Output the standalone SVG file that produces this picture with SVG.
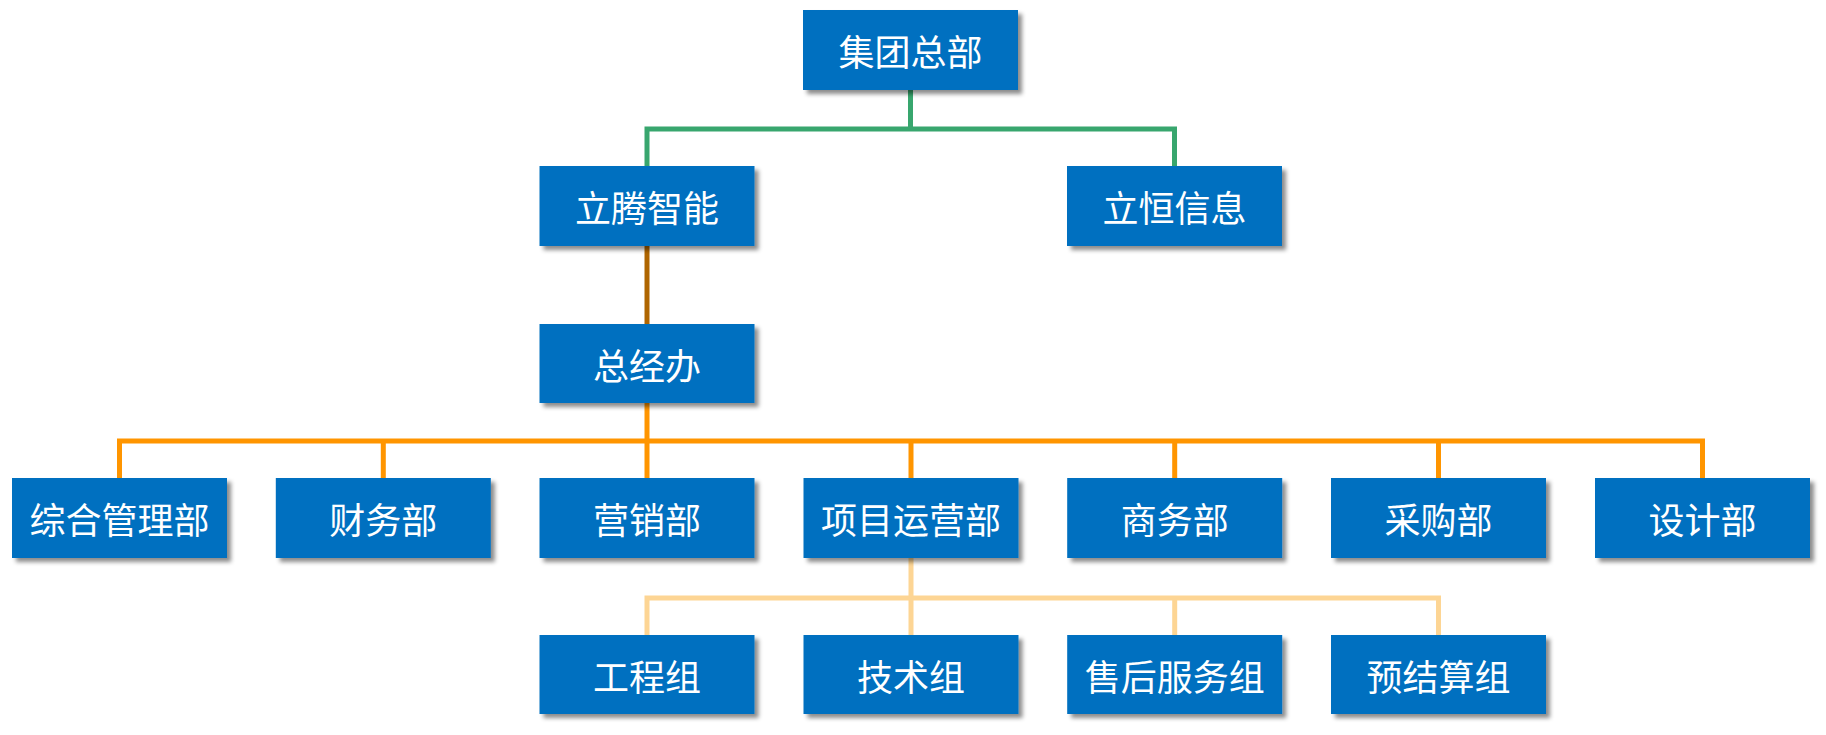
<svg xmlns="http://www.w3.org/2000/svg" width="1826" height="735" viewBox="0 0 1826 735">
<defs>
<filter id="sh" x="-10%" y="-10%" width="130%" height="140%">
<feDropShadow dx="4" dy="4" stdDeviation="2" flood-color="#000" flood-opacity="0.45"/>
</filter>
<style>
.box{fill:#0070C0;filter:url(#sh);}
.t{fill:#fff;font-family:"Noto Sans CJK SC","Microsoft YaHei",sans-serif;font-size:36px;text-anchor:middle;dominant-baseline:central;}
.c{fill:none;stroke-width:5;stroke-linejoin:miter;stroke-linecap:butt;}
</style>
</defs>
<rect width="1826" height="735" fill="#fff"/>
<g id="connectors">
<path class="c" stroke="#38A66E" d="M910.5 90V129M647 166V129H1174.5V166"/>
<path class="c" stroke="#AF6500" d="M647 246V324"/>
<path class="c" stroke="#FF9500" d="M647 403V441M119.5 478V441H1702.5V478M383.3 441V478M911 441V478M1174.7 441V478M1438.5 441V478M647 441V478"/>
<path class="c" stroke="#FDD594" d="M911 558V598M647 635V598H1438.5V635M911 598V635M1174.7 598V635"/>
</g>
<g id="n-root"><rect class="box" x="803" y="10" width="215" height="80"/><text class="t" x="910.5" y="50">集团总部</text></g>
<g id="n-liteng"><rect class="box" x="539.5" y="166" width="215" height="80"/><text class="t" x="647" y="206">立腾智能</text></g>
<g id="n-liheng"><rect class="box" x="1067" y="166" width="215" height="80"/><text class="t" x="1174.5" y="206">立恒信息</text></g>
<g id="n-zjb"><rect class="box" x="539.5" y="324" width="215" height="79"/><text class="t" x="647" y="363.5">总经办</text></g>
<g id="n-zhgl"><rect class="box" x="12" y="478" width="215" height="80"/><text class="t" x="119.5" y="518">综合管理部</text></g>
<g id="n-cw"><rect class="box" x="275.8" y="478" width="215" height="80"/><text class="t" x="383.3" y="518">财务部</text></g>
<g id="n-yx"><rect class="box" x="539.5" y="478" width="215" height="80"/><text class="t" x="647" y="518">营销部</text></g>
<g id="n-xmyy"><rect class="box" x="803.5" y="478" width="215" height="80"/><text class="t" x="911" y="518">项目运营部</text></g>
<g id="n-sw"><rect class="box" x="1067.2" y="478" width="215" height="80"/><text class="t" x="1174.7" y="518">商务部</text></g>
<g id="n-cg"><rect class="box" x="1331" y="478" width="215" height="80"/><text class="t" x="1438.5" y="518">采购部</text></g>
<g id="n-sj"><rect class="box" x="1595" y="478" width="215" height="80"/><text class="t" x="1702.5" y="518">设计部</text></g>
<g id="n-gc"><rect class="box" x="539.5" y="635" width="215" height="79"/><text class="t" x="647" y="674.5">工程组</text></g>
<g id="n-js"><rect class="box" x="803.5" y="635" width="215" height="79"/><text class="t" x="911" y="674.5">技术组</text></g>
<g id="n-shfw"><rect class="box" x="1067.2" y="635" width="215" height="79"/><text class="t" x="1174.7" y="674.5">售后服务组</text></g>
<g id="n-yjs"><rect class="box" x="1331" y="635" width="215" height="79"/><text class="t" x="1438.5" y="674.5">预结算组</text></g>
</svg>
